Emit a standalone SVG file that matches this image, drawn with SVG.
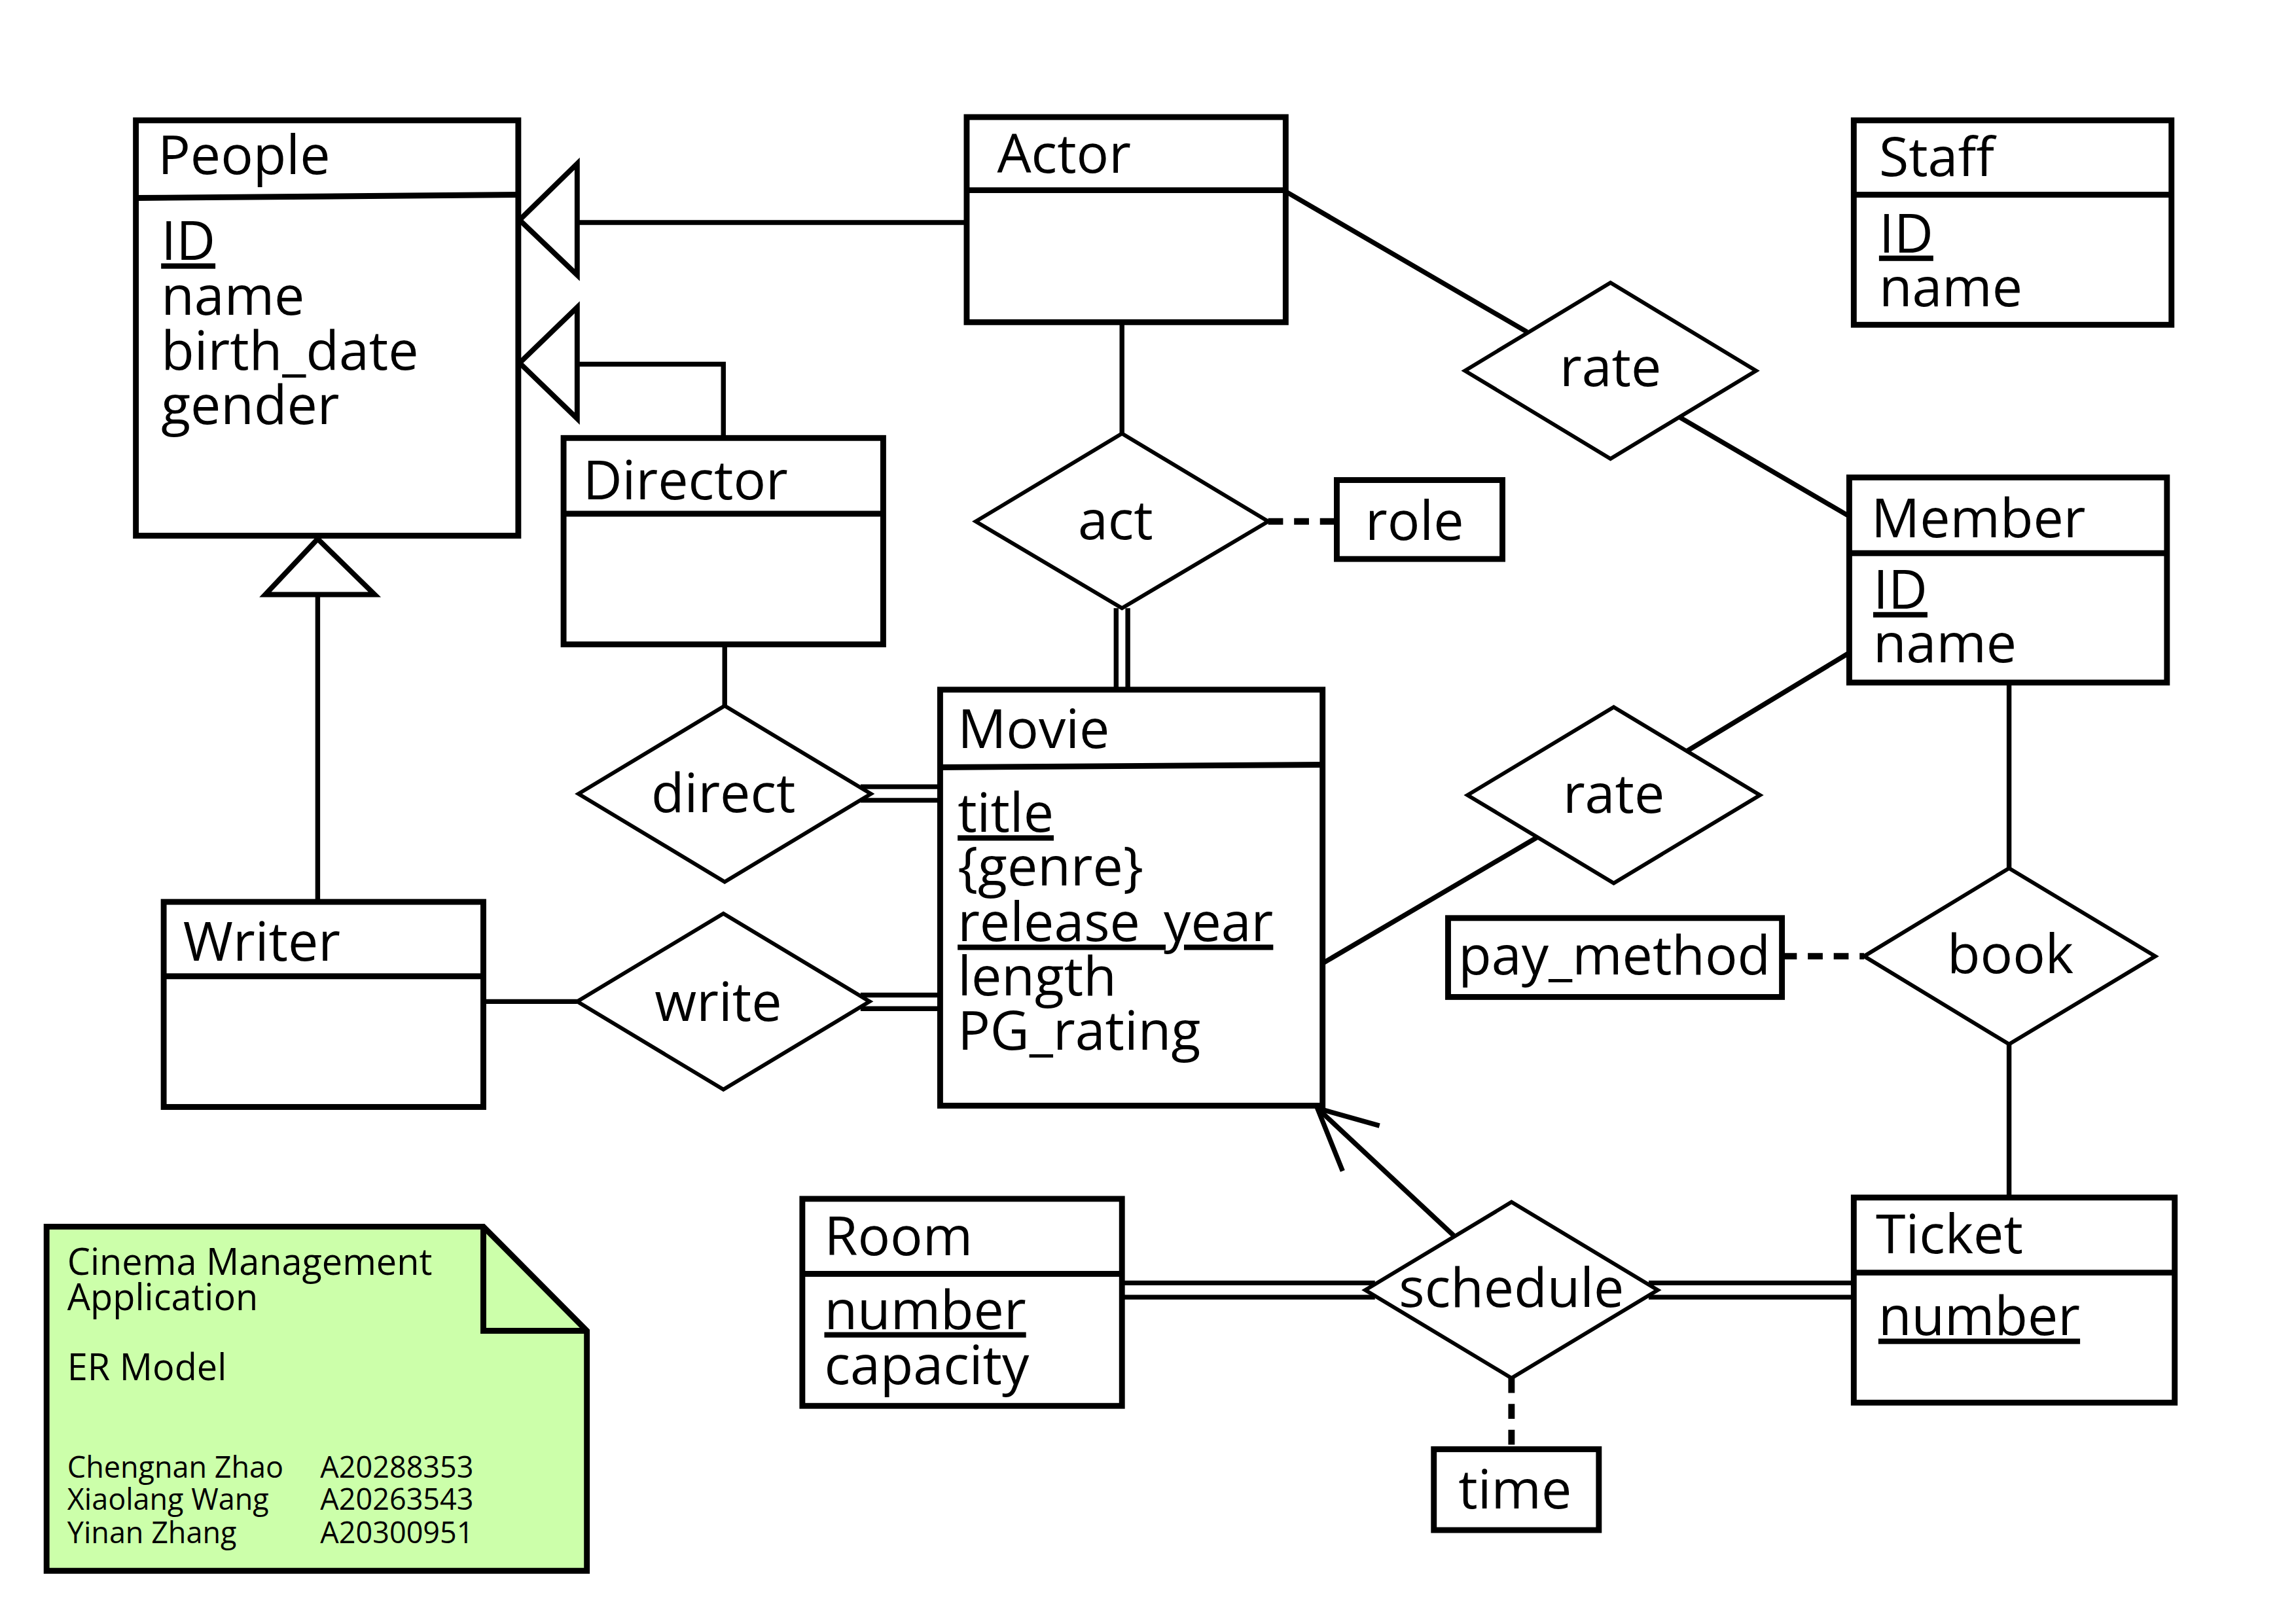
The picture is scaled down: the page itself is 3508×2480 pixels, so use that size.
<svg xmlns="http://www.w3.org/2000/svg" width="3508" height="2480" viewBox="0 0 3508 2480">
<style>
text{font-family:"Open Sans","Noto Sans","DejaVu Sans",sans-serif;font-size:83.5px;fill:#000}
.box{fill:#fff;stroke:#000;stroke-width:9}
.div{stroke:#000;stroke-width:9}
.dia{fill:#fff;stroke:#000;stroke-width:6}
.ln{stroke:#000;stroke-width:7.5;fill:none}
.dash{stroke:#000;stroke-width:10;fill:none;stroke-dasharray:23 17}
.tri{fill:#fff;stroke:#000;stroke-width:8}
.u{text-decoration:underline}
.mid{text-anchor:middle}
.nt{font-size:56.5px}
.nn{font-size:45.5px}
</style>
<rect width="3508" height="2480" fill="#fff"/>
<g transform="scale(0.9886)">
<g id="connectors">
  <line class="ln" x1="892" y1="344" x2="1494" y2="344"/>
  <polyline class="ln" points="892,563 1118,563 1118,677"/>
  <line class="ln" x1="491" y1="919" x2="491" y2="1394"/>
  <line class="ln" x1="1987" y1="296" x2="2360" y2="513"/>
  <line class="ln" x1="2596" y1="645" x2="2858" y2="798"/>
  <line class="ln" x1="1734" y1="498" x2="1734" y2="670"/>
  <line class="ln" x1="1725" y1="940" x2="1725" y2="1066"/>
  <line class="ln" x1="1743" y1="940" x2="1743" y2="1066"/>
  <line class="dash" x1="1960" y1="806" x2="2066" y2="806"/>
  <line class="ln" x1="1120" y1="996" x2="1120" y2="1091"/>
  <line class="ln" x1="1330" y1="1216" x2="1453" y2="1216"/>
  <line class="ln" x1="1330" y1="1237" x2="1453" y2="1237"/>
  <line class="ln" x1="747" y1="1548" x2="892" y2="1548"/>
  <line class="ln" x1="1330" y1="1538" x2="1453" y2="1538"/>
  <line class="ln" x1="1330" y1="1559" x2="1453" y2="1559"/>
  <line class="ln" x1="2044" y1="1489" x2="2376" y2="1294"/>
  <line class="ln" x1="2607" y1="1161" x2="2858" y2="1009"/>
  <line class="ln" x1="3105" y1="1055" x2="3105" y2="1342"/>
  <line class="dash" x1="2754" y1="1478" x2="2881" y2="1478"/>
  <line class="ln" x1="3105" y1="1614" x2="3105" y2="1851"/>
  <line class="ln" x1="1734" y1="1983" x2="2125" y2="1983"/>
  <line class="ln" x1="1734" y1="2005" x2="2125" y2="2005"/>
  <line class="ln" x1="2548" y1="1983" x2="2865" y2="1983"/>
  <line class="ln" x1="2548" y1="2005" x2="2865" y2="2005"/>
  <line class="ln" x1="2247" y1="1910" x2="2036" y2="1713"/>
  <polyline class="ln" points="2132,1740 2036,1713 2075,1810"/>
  <line class="dash" x1="2336" y1="2130" x2="2336" y2="2240"/>
</g>
<g id="gen-triangles">
  <polygon class="tri" points="803,340 892,253 892,425"/>
  <polygon class="tri" points="803,561 892,475 892,647"/>
  <polygon class="tri" points="491,833 410,919 579,919"/>
</g>
<g id="People">
  <rect class="box" x="210" y="186" width="591" height="642"/>
  <line class="div" x1="210" y1="306" x2="801" y2="301"/>
  <text x="244" y="269">People</text>
  <text x="249" y="402" class="u">ID</text>
  <text x="249" y="487">name</text>
  <text x="249" y="572">birth_date</text>
  <text x="249" y="655">gender</text>
</g>
<g id="Actor">
  <rect class="box" x="1494" y="181" width="493" height="317"/>
  <line class="div" x1="1494" y1="294" x2="1987" y2="294"/>
  <text x="1541" y="267">Actor</text>
</g>
<g id="Staff">
  <rect class="box" x="2865" y="186" width="491" height="316"/>
  <line class="div" x1="2865" y1="301" x2="3356" y2="301"/>
  <text x="2904" y="272">Staff</text>
  <text x="2904" y="390" class="u">ID</text>
  <text x="2904" y="473">name</text>
</g>
<g id="Director">
  <rect class="box" x="871" y="677" width="494" height="319"/>
  <line class="div" x1="871" y1="794" x2="1365" y2="794"/>
  <text x="901" y="772">Director</text>
</g>
<g id="Member">
  <rect class="box" x="2858" y="738" width="491" height="317"/>
  <line class="div" x1="2858" y1="855" x2="3349" y2="855"/>
  <text x="2892" y="830">Member</text>
  <text x="2895" y="941" class="u">ID</text>
  <text x="2895" y="1024">name</text>
</g>
<g id="role">
  <rect class="box" x="2066" y="742" width="256" height="122"/>
  <text x="2110" y="835">role</text>
</g>
<g id="Movie">
  <rect class="box" x="1453" y="1066" width="591" height="643"/>
  <line class="div" x1="1453" y1="1186" x2="2044" y2="1182"/>
  <text x="1480" y="1156">Movie</text>
  <text x="1480" y="1286" class="u">title</text>
  <text x="1480" y="1369">{genre}</text>
  <text x="1480" y="1455" class="u">release_year</text>
  <text x="1480" y="1539">length</text>
  <text x="1480" y="1623">PG_rating</text>
</g>
<g id="Writer">
  <rect class="box" x="253" y="1394" width="494" height="317"/>
  <line class="div" x1="253" y1="1509" x2="747" y2="1509"/>
  <text x="283" y="1485">Writer</text>
</g>
<g id="pay_method">
  <rect class="box" x="2238" y="1419" width="516" height="122"/>
  <text x="2254" y="1506">pay_method</text>
</g>
<g id="Room">
  <rect class="box" x="1240" y="1853" width="494" height="320"/>
  <line class="div" x1="1240" y1="1969" x2="1734" y2="1969"/>
  <text x="1274" y="1940">Room</text>
  <text x="1274" y="2054" class="u">number</text>
  <text x="1274" y="2139">capacity</text>
</g>
<g id="Ticket">
  <rect class="box" x="2865" y="1851" width="496" height="317"/>
  <line class="div" x1="2865" y1="1967" x2="3361" y2="1967"/>
  <text x="2899" y="1937">Ticket</text>
  <text x="2903" y="2064" class="u">number</text>
</g>
<g id="time">
  <rect class="box" x="2216" y="2240" width="255" height="125"/>
  <text x="2254" y="2332">time</text>
</g>
<g id="rate1">
  <polygon class="dia" points="2264,573 2489,437 2714,573 2489,709"/>
  <text x="2489" y="597" class="mid">rate</text>
</g>
<g id="act">
  <polygon class="dia" points="1508,806 1734,670 1960,806 1734,940"/>
  <text x="1724" y="834" class="mid">act</text>
</g>
<g id="direct">
  <polygon class="dia" points="894,1227 1120,1091 1346,1227 1120,1363"/>
  <text x="1118" y="1255" class="mid">direct</text>
</g>
<g id="write">
  <polygon class="dia" points="892,1548 1118,1412 1344,1548 1118,1684"/>
  <text x="1110" y="1578" class="mid">write</text>
</g>
<g id="rate2">
  <polygon class="dia" points="2268,1229 2494,1093 2720,1229 2494,1365"/>
  <text x="2494" y="1256" class="mid">rate</text>
</g>
<g id="book">
  <polygon class="dia" points="2881,1478 3105,1342 3331,1478 3105,1614"/>
  <text x="3107" y="1504" class="mid">book</text>
</g>
<g id="schedule">
  <polygon class="dia" points="2110,1994 2336,1858 2562,1994 2336,2130"/>
  <text x="2336" y="2020" class="mid">schedule</text>
</g>
<g id="note">
  <polygon points="72,1896 747,1896 907,2057 907,2428 72,2428" fill="#ccffaa" stroke="#000" stroke-width="9"/>
  <polyline points="747,1896 747,2057 907,2057" fill="none" stroke="#000" stroke-width="9"/>
  <text class="nt" x="104" y="1970">Cinema Management</text>
  <text class="nt" x="104" y="2025">Application</text>
  <text class="nt" x="104" y="2133">ER Model</text>
  <text class="nn" x="104" y="2284">Chengnan Zhao</text>
  <text class="nn" x="495" y="2284">A20288353</text>
  <text class="nn" x="104" y="2334">Xiaolang Wang</text>
  <text class="nn" x="495" y="2334">A20263543</text>
  <text class="nn" x="104" y="2385">Yinan Zhang</text>
  <text class="nn" x="495" y="2385">A20300951</text>
</g>
</g>
</svg>
